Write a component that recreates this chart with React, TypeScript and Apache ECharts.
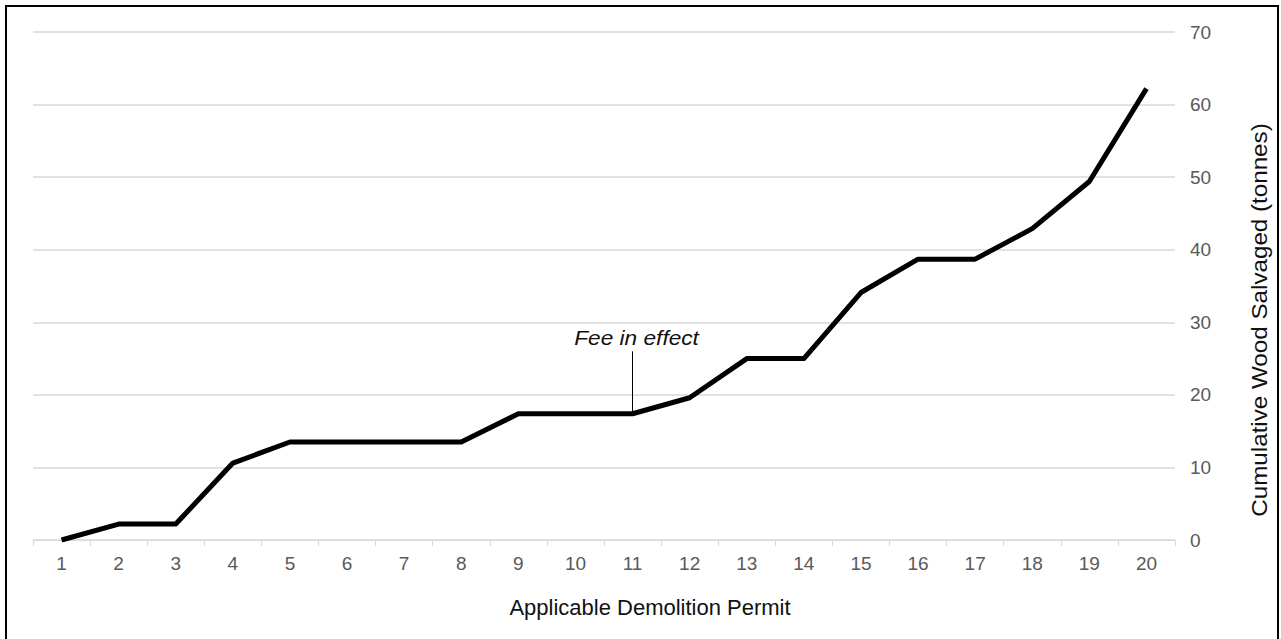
import React, { useEffect, useRef } from "react";
import * as echarts from "echarts";

const permits = ["1","2","3","4","5","6","7","8","9","10","11","12","13","14","15","16","17","18","19","20"];
const cumulativeWood = [0, 2.2, 2.2, 10.6, 13.5, 13.5, 13.5, 13.5, 17.4, 17.4, 17.4, 19.6, 25.0, 25.0, 34.1, 38.7, 38.7, 42.9, 49.4, 62.2];
const feeIndex = 10;
const feeTop = 26;
const feeText = "Fee in effect";
const xTitle = "Applicable Demolition Permit";
const yTitle = "Cumulative Wood Salvaged (tonnes)";
const yTicks = { min: 0, max: 70, interval: 10 };

export default function App() {
  const ref = useRef<HTMLDivElement>(null);
  useEffect(() => {
    if (!ref.current) return;
    const chart = echarts.init(ref.current, null, { renderer: "svg" });
    const font = "Liberation Sans, Arial, sans-serif";
    chart.setOption({
      animation: false,
      backgroundColor: "#ffffff",
      grid: { left: 33, right: 106, top: 32, bottom: 99, containLabel: false },
      xAxis: {
        type: "category",
        data: permits,
        boundaryGap: true,
        axisLine: { show: true, lineStyle: { color: "#d9d9d9", width: 1 } },
        axisTick: { show: true, alignWithLabel: false, length: 6, lineStyle: { color: "#d9d9d9" } },
        axisLabel: { color: "#595959", fontSize: 19, fontFamily: font, margin: 14 },
        splitLine: { show: false },
      },
      yAxis: {
        type: "value",
        position: "right",
        min: yTicks.min,
        max: yTicks.max,
        interval: yTicks.interval,
        axisLine: { show: false },
        axisTick: { show: false },
        axisLabel: { color: "#595959", fontSize: 19, fontFamily: font, margin: 15, align: "left" },
        splitLine: { show: true, lineStyle: { color: "#d9d9d9", width: 1.5 } },
      },
      series: [
        {
          type: "line",
          data: cumulativeWood,
          showSymbol: false,
          symbol: "none",
          lineStyle: { color: "#000000", width: 5, join: "round", cap: "butt" },
          markLine: {
            silent: true,
            symbol: ["none", "none"],
            lineStyle: { color: "#000000", width: 1, type: "solid" },
            label: { show: false },
            data: [[{ coord: [feeIndex, cumulativeWood[feeIndex]] }, { coord: [feeIndex, feeTop] }]],
          },
        },
      ],
    });
    const top = chart.convertToPixel({ seriesIndex: 0 }, [feeIndex, feeTop]) as number[];
    chart.setOption({
      graphic: [
        {
          type: "text",
          x: top[0] + 4,
          y: top[1] - 14,
          scaleX: 1.08,
          style: {
            text: feeText,
            fill: "#111111",
            fontSize: 21,
            fontStyle: "italic",
            fontFamily: font,
            align: "center",
            verticalAlign: "middle",
          },
        },
        {
          type: "text",
          x: 650,
          y: 607,
          style: {
            text: xTitle,
            fill: "#111111",
            fontSize: 22,
            fontFamily: font,
            align: "center",
            verticalAlign: "middle",
          },
        },
        {
          type: "text",
          x: 1259,
          y: 320,
          rotation: Math.PI / 2,
          scaleX: 1.1,
          style: {
            text: yTitle,
            fill: "#111111",
            fontSize: 22,
            fontFamily: font,
            align: "center",
            verticalAlign: "middle",
          },
        },
      ],
    });
    return () => chart.dispose();
  }, []);
  return (
    <div style={{ position: "absolute", left: 0, top: 0, width: 1281, height: 639, overflow: "hidden", background: "#fff" }}>
      <div ref={ref} style={{ position: "absolute", left: 0, top: 0, width: 1281, height: 639 }} />
      <div
        style={{
          position: "absolute",
          left: 5,
          top: 5,
          width: 1274,
          height: 700,
          border: "2px solid #000",
          boxSizing: "border-box",
          pointerEvents: "none",
        }}
      />
    </div>
  );
}
